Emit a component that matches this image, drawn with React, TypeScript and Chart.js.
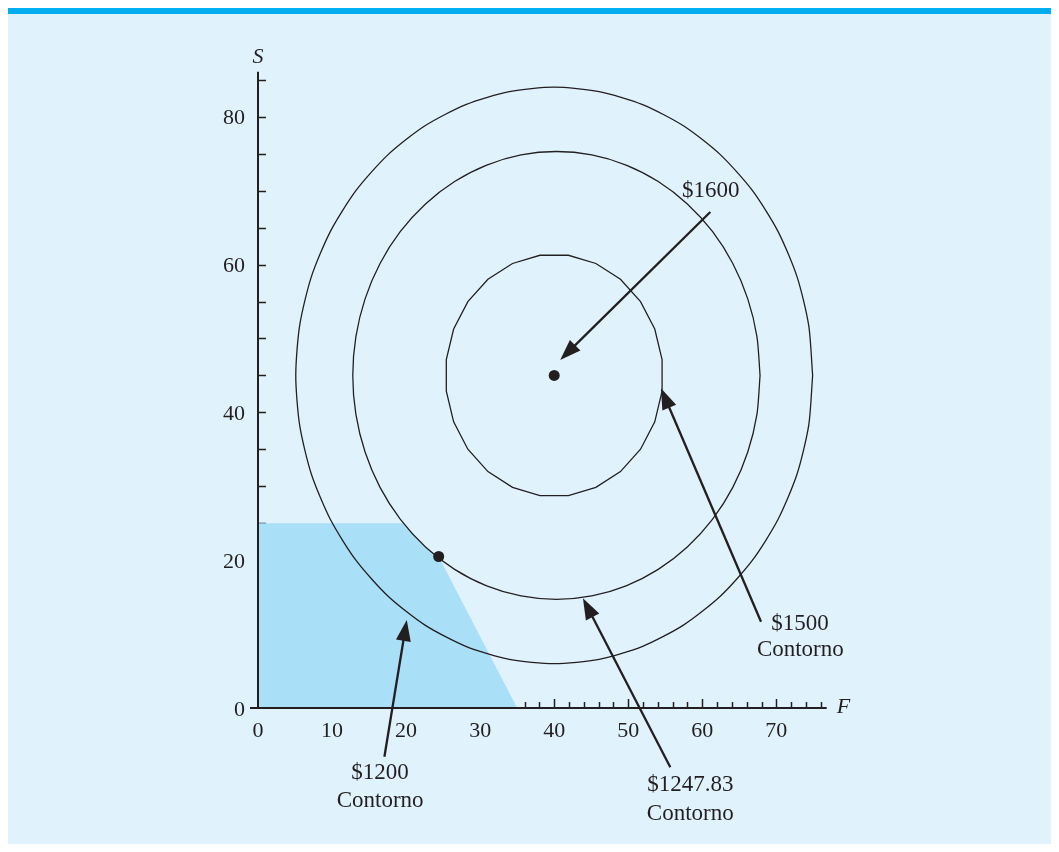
import React, { useEffect, useRef } from "react";
import { Chart, registerables } from "chart.js";

Chart.register(...registerables);

// ---- data (F, S) ----
const contour1200: [number, number][] = [
  [74.9, 45], [74.37, 51.77], [72.8, 58.34], [70.22, 64.5], [66.73, 70.07], [62.43, 74.88],
  [57.45, 78.78], [51.94, 81.65], [46.06, 83.41], [40, 84], [33.94, 83.41], [28.06, 81.65],
  [22.55, 78.78], [17.57, 74.88], [13.27, 70.07], [9.78, 64.5], [7.2, 58.34], [5.63, 51.77],
  [5.1, 45], [5.63, 38.23], [7.2, 31.66], [9.78, 25.5], [13.27, 19.93], [17.57, 15.12],
  [22.55, 11.22], [28.06, 8.35], [33.94, 6.59], [40, 6], [46.06, 6.59], [51.94, 8.35],
  [57.45, 11.22], [62.43, 15.12], [66.73, 19.93], [70.22, 25.5], [72.8, 31.66], [74.37, 38.23],
  [74.9, 45],
];

const contour1247: [number, number][] = [
  [67.8, 45], [67.38, 50.26], [66.14, 55.36], [64.12, 60.15], [61.37, 64.48], [57.98, 68.21],
  [54.05, 71.24], [49.71, 73.47], [45.08, 74.84], [40.3, 75.3], [35.52, 74.84], [30.89, 73.47],
  [26.55, 71.24], [22.62, 68.21], [19.23, 64.48], [16.48, 60.15], [14.46, 55.36], [13.22, 50.26],
  [12.8, 45], [13.22, 39.74], [14.46, 34.64], [16.48, 29.85], [19.23, 25.52], [22.62, 21.79],
  [26.55, 18.76], [30.89, 16.53], [35.52, 15.16], [40.3, 14.7], [45.08, 15.16], [49.71, 16.53],
  [54.05, 18.76], [57.98, 21.79], [61.37, 25.52], [64.12, 29.85], [66.14, 34.64], [67.38, 39.74],
  [67.8, 45],
];

const contour1500: [number, number][] = [
  [54.57, 47.14], [53.58, 51.28], [51.66, 54.98], [48.95, 58.01], [45.63, 60.15], [41.92, 61.26],
  [38.08, 61.26], [34.37, 60.15], [31.05, 58.01], [28.34, 54.98], [26.42, 51.28], [25.43, 47.14],
  [25.43, 42.86], [26.42, 38.72], [28.34, 35.02], [31.05, 31.99], [34.37, 29.85], [38.08, 28.74],
  [41.92, 28.74], [45.63, 29.85], [48.95, 31.99], [51.66, 35.02], [53.58, 38.72], [54.57, 42.86],
  [54.57, 47.14],
];

const feasibleRegion: [number, number][] = [
  [0, 0], [0, 25], [19.7, 25], [22.62, 21.79], [24.4, 20.5], [35, 0], [0, 0],
];

const keyPoints: [number, number][] = [
  [40, 45],
  [24.4, 20.5],
];

const xTickLabels = [0, 10, 20, 30, 40, 50, 60, 70];
const yTickLabels = [0, 20, 40, 60, 80];
const xMinorTicks = [2, 4, 6, 8, 10, 12, 14, 16, 18, 20, 22, 24, 26, 28, 30, 32, 34, 36, 38, 40, 42, 44, 46, 48, 50, 52, 54, 56, 58, 60, 62, 64, 66, 68, 70, 72, 74, 76];
const yMinorTicks = [5, 10, 15, 20, 25, 30, 35, 40, 45, 50, 55, 60, 65, 70, 75, 80, 85];

// annotation arrows: tail (F,S) -> tip (F,S)
const arrows = [
  { from: [61.08, 67.12], to: [40.81, 47.09] },
  { from: [67.93, 11.68], to: [54.42, 43.26] },
  { from: [55.68, -8.02], to: [43.88, 14.84] },
  { from: [17.07, -6.59], to: [20.09, 11.91] },
];
const labels = [
  { text: "$1600", at: [61.15, 69.11] },
  { text: "$1500", at: [73.18, 10.55] },
  { text: "Contorno", at: [73.24, 7.04] },
  { text: "$1200", at: [16.49, -9.61] },
  { text: "Contorno", at: [16.49, -13.36] },
  { text: "$1247.83", at: [58.38, -11.23] },
  { text: "Contorno", at: [58.38, -15.16] },
];

const INK = "#231f20";
const toXY = (arr: [number, number][]) => arr.map(([x, y]) => ({ x, y }));

const axesPlugin = {
  id: "customAxes",
  beforeDatasetsDraw(chart: any) {
    const { ctx } = chart;
    const xs = chart.scales.x;
    const ys = chart.scales.y;
    const y0 = ys.getPixelForValue(0);
    const x0 = xs.getPixelForValue(0);
    ctx.save();
    ctx.strokeStyle = INK;
    ctx.lineWidth = 1.5;
    ctx.beginPath();
    for (const v of xMinorTicks) {
      const px = Math.round(xs.getPixelForValue(v)) + 0.5;
      const len = v % 10 === 0 ? 9 : 6;
      ctx.moveTo(px, y0);
      ctx.lineTo(px, y0 - len);
    }
    for (const v of yMinorTicks) {
      const py = Math.round(ys.getPixelForValue(v)) + 0.5;
      ctx.moveTo(x0, py);
      ctx.lineTo(x0 + 8, py);
    }
    ctx.stroke();
    ctx.restore();
  },
  afterDatasetsDraw(chart: any) {
    const { ctx, chartArea } = chart;
    const xs = chart.scales.x;
    const ys = chart.scales.y;
    const X = (v: number) => xs.getPixelForValue(v);
    const Y = (v: number) => ys.getPixelForValue(v);
    const y0 = Y(0);
    const x0 = X(0);
    ctx.save();
    ctx.strokeStyle = INK;
    ctx.fillStyle = INK;
    ctx.lineWidth = 2;
    ctx.beginPath();
    ctx.moveTo(x0 - 8, y0);
    ctx.lineTo(chartArea.right, y0);
    ctx.moveTo(x0, y0);
    ctx.lineTo(x0, chartArea.top);
    ctx.stroke();

    ctx.font = "22px 'Liberation Serif', serif";
    ctx.textAlign = "center";
    ctx.textBaseline = "alphabetic";
    for (const v of xTickLabels) {
      ctx.fillText(String(v), X(v), y0 + 29);
    }
    ctx.textAlign = "right";
    for (const v of yTickLabels) {
      ctx.fillText(String(v), x0 - 13, Y(v) + 7.5);
    }
    ctx.font = "italic 22px 'Liberation Serif', serif";
    ctx.textAlign = "center";
    ctx.fillText("S", x0, chartArea.top - 9);
    ctx.textAlign = "left";
    ctx.fillText("F", chartArea.right + 10, y0 + 5);

    // arrows
    ctx.lineWidth = 2.3;
    for (const a of arrows) {
      const tx = X(a.from[0]), ty = Y(a.from[1]);
      const hx = X(a.to[0]), hy = Y(a.to[1]);
      const ang = Math.atan2(hy - ty, hx - tx);
      const L = 21, W = 7.5;
      const bx = hx - L * Math.cos(ang), by = hy - L * Math.sin(ang);
      ctx.beginPath();
      ctx.moveTo(tx, ty);
      ctx.lineTo(bx + 2 * Math.cos(ang), by + 2 * Math.sin(ang));
      ctx.stroke();
      ctx.beginPath();
      ctx.moveTo(hx, hy);
      ctx.lineTo(bx + W * Math.sin(ang), by - W * Math.cos(ang));
      ctx.lineTo(bx - W * Math.sin(ang), by + W * Math.cos(ang));
      ctx.closePath();
      ctx.fill();
    }

    ctx.font = "23px 'Liberation Serif', serif";
    ctx.textAlign = "center";
    for (const l of labels) {
      ctx.fillText(l.text, X(l.at[0]), Y(l.at[1]));
    }
    ctx.restore();
  },
};

export default function App() {
  const ref = useRef<HTMLCanvasElement>(null);
  useEffect(() => {
    if (!ref.current) return;
    const chart = new Chart(ref.current, {
      type: "scatter",
      data: {
        datasets: [
          {
            label: "points",
            data: toXY(keyPoints),
            pointRadius: 5.5,
            pointBackgroundColor: INK,
            pointBorderWidth: 0,
            showLine: false,
            order: 0,
          },
          {
            label: "$1500",
            data: toXY(contour1500),
            showLine: true,
            borderColor: INK,
            borderWidth: 1.3,
            pointRadius: 0,
            tension: 0,
            fill: false,
            order: 1,
          },
          {
            label: "$1247.83",
            data: toXY(contour1247),
            showLine: true,
            borderColor: INK,
            borderWidth: 1.3,
            pointRadius: 0,
            tension: 0.25,
            fill: false,
            order: 1,
          },
          {
            label: "$1200",
            data: toXY(contour1200),
            showLine: true,
            borderColor: INK,
            borderWidth: 1.3,
            pointRadius: 0,
            tension: 0.25,
            fill: false,
            order: 1,
          },
          {
            label: "feasible",
            data: toXY(feasibleRegion),
            showLine: true,
            borderWidth: 0,
            borderColor: "rgba(0,0,0,0)",
            backgroundColor: "#aadff8",
            pointRadius: 0,
            tension: 0,
            fill: "shape",
            order: 5,
          },
        ],
      },
      options: {
        animation: false,
        responsive: false,
        layout: { padding: { left: 250, right: 224.3, top: 57.7, bottom: 136 } },
        plugins: { legend: { display: false }, tooltip: { enabled: false } },
        scales: {
          x: { type: "linear", min: 0, max: 76.8, display: false },
          y: { type: "linear", min: 0, max: 86.1, display: false },
        },
      },
      plugins: [axesPlugin],
    } as any);
    return () => chart.destroy();
  }, []);

  return (
    <div
      style={{
        width: 1043,
        height: 830,
        background: "#e0f3fd",
        borderTop: "6px solid #00aeef",
      }}
    >
      <canvas ref={ref} width={1043} height={830} style={{ display: "block" }} />
    </div>
  );
}
